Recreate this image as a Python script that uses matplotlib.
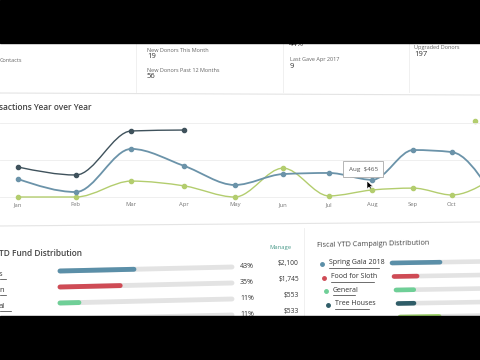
import numpy as np
import matplotlib.pyplot as plt
from matplotlib.path import Path
from matplotlib.patches import PathPatch, Rectangle

plt.rcParams['font.family'] = ['Open Sans', 'DejaVu Sans']

# Data
months = ['Jan', 'Feb', 'Mar', 'Apr', 'May', 'Jun', 'Jul', 'Aug', 'Sep', 'Oct', 'Nov', 'Dec']
prior2 = [810, 595, 1785, 1810]                                     # dark series
prior1 = [485, 135, 1300, 840, 325, 620, 650, 465, 1270, 1215, 250]   # blue series
current = [0, 0, 430, 300, 0, 780, 30, 190, 240, 55, 420]             # green series

fund_labels = ['s', 'n', 'al', '']
fund_pct = [43, 35, 11, 11]
fund_amount = ['$2,100', '$1,745', '$553', '$533']

camp_labels = ['Spring Gala 2018', 'Food for Sloth', 'General', 'Tree Houses', '']
camp_pct = [27, 13, 10, 9, 22]

stat_labels = ['Contacts', 'New Donors This Month', 'New Donors Past 12 Months',
               'Last Gave Apr 2017', 'Upgraded Donors']
stat_values = ['', '19', '56', '9', '197']

C_DARK = '#3f525c'
C_BLUE = '#6b93a9'
C_GREEN = '#b3cd6e'
C_CAMP = ['#5b8fa8', '#cf4b55', '#6fcf97', '#2f5d68', '#9fd36b']


def monotone_path(xs, ys):
    xs = np.asarray(xs, float)
    ys = np.asarray(ys, float)
    n = len(xs)
    h = np.diff(xs)
    s = np.diff(ys) / h
    m = np.zeros(n)
    for i in range(1, n - 1):
        if s[i - 1] * s[i] > 0:
            p = (s[i - 1] * h[i] + s[i] * h[i - 1]) / (h[i - 1] + h[i])
            m[i] = (np.sign(s[i - 1]) + np.sign(s[i])) * min(abs(s[i - 1]), abs(s[i]), 0.5 * abs(p))
    m[0] = (3 * s[0] - m[1]) / 2
    m[-1] = (3 * s[-1] - m[-2]) / 2
    verts = [(xs[0], ys[0])]
    codes = [Path.MOVETO]
    for i in range(n - 1):
        d = h[i] / 3
        verts += [(xs[i] + d, ys[i] + m[i] * d), (xs[i + 1] - d, ys[i + 1] - m[i + 1] * d),
                  (xs[i + 1], ys[i + 1])]
        codes += [Path.CURVE4] * 3
    return Path(verts, codes)


# slight perspective: months get closer to the right
def fwd(x):
    x = np.asarray(x, float)
    return 59 * x - 1.2 * x ** 2


def inv(u):
    u = np.asarray(u, float)
    return (59 - np.sqrt(np.clip(59 ** 2 - 4.8 * u, 0, None))) / 2.4


fig = plt.figure(figsize=(4.8, 3.6), dpi=100)
bg = fig.add_axes([0, 0, 1, 1])
bg.set_xlim(0, 480)
bg.set_ylim(360, 0)
bg.axis('off')

# card outlines
bg.plot([0, 480], [93, 95], color='#e4e4e4', lw=0.8)
bg.plot([0, 480], [226, 222], color='#e4e4e4', lw=0.8)
for x in (136, 283, 409):
    bg.plot([x, x], [43, 92], color='#eeeeee', lw=0.6)
bg.plot([304, 304], [228, 316], color='#eeeeee', lw=0.6)

# top stats
stat_pos = [(0, 61), (147, 50), (147, 70), (290, 60), (414, 48)]
for (x, y), lab, val in zip(stat_pos, stat_labels, stat_values):
    bg.text(x, y, lab, fontsize=4, color='#666666', va='center')
    if val:
        bg.text(x, y + 6.5, val, fontsize=5.5, color='#333333', va='center')
bg.text(289, 44, '44%', fontsize=5.5, color='#333333', va='center')

# chart
ax = fig.add_axes([0, (360 - 198) / 360, 1, (198 - 95) / 360])
ax.patch.set_alpha(0)
ax.set_xscale('function', functions=(fwd, inv))
for v in (0, 1000, 2000):
    ax.axhline(v, color='#ececec', lw=0.6, zorder=0)
for sp in ax.spines.values():
    sp.set_visible(False)
ax.set_yticks([])
ax.set_xticks(range(10))
ax.set_xticklabels(months[:10], fontsize=4.2, color='#777777')
ax.tick_params(axis='x', length=0, pad=3)

for vals, col, lw in ((current, C_GREEN, 1.0), (prior1, C_BLUE, 1.3), (prior2, C_DARK, 1.0)):
    xs = np.arange(len(vals))
    ax.add_patch(PathPatch(monotone_path(xs, vals), facecolor='none', edgecolor=col,
                           lw=lw, clip_on=False))
    ax.plot(xs, vals, 'o', color=col, ms=3, clip_on=False)

ax.set_xlim(inv(-18), inv(462))
ax.set_ylim(-27, 2757)

ax.annotate('Aug  $465', xy=(7, prior1[7]), xytext=(-9, 8), textcoords='offset pixels',
            fontsize=4.5, color='#555555', ha='center', va='bottom', annotation_clip=False,
            bbox=dict(boxstyle='square,pad=0.9', fc='white', ec='#aaaaaa', lw=0.6))

# legend dot and cursor
bg.plot(475, 121, 'o', color=C_GREEN, ms=3)
cursor = Path([(0, 0), (0, 8), (2, 6), (4, 9), (5, 8.5), (3.5, 5.5), (6, 5.5), (0, 0)])
bg.add_patch(PathPatch(Path(cursor.vertices + [367, 181]), fc='black', ec='white', lw=0.4, zorder=5))

# chart title
bg.text(-1, 107, 'sactions Year over Year', fontsize=6, color='#444444', va='center',
        fontweight='semibold')

# fund distribution
bg.text(-1, 253, 'TD Fund Distribution', fontsize=6, color='#444444', va='center',
        fontweight='semibold')
bg.text(269, 247, 'Manage', fontsize=4.2, color='#4a9a8a', va='center')
for i, (lab, pct, amt) in enumerate(zip(fund_labels, fund_pct, fund_amount)):
    y0 = 271 + 16 * i
    y1 = y0 - 4
    x0, x1 = 60, 232
    bg.plot([x0, x1], [y0, y1], color='#e3e3e3', lw=3.5, solid_capstyle='round')
    xf = x0 + (x1 - x0) * pct / 100
    bg.plot([x0, xf], [y0, y0 + (y1 - y0) * pct / 100], color=C_CAMP[i], lw=3.5,
            solid_capstyle='round')
    bg.text(240, y1 - 1, f'{pct}%', fontsize=5, color='#333333', va='center')
    bg.text(299, y1 - 3, amt, fontsize=4.8, color='#333333', va='center', ha='right')
    if lab:
        bg.text(-1, y0 + 3, lab, fontsize=5.5, color='#333333', va='center')
        bg.plot([0, 1 + 5 * len(lab)], [y0 + 7.5, y0 + 7.5], color='#333333', lw=0.5)

# campaign distribution
bg.text(317, 244, 'Fiscal YTD Campaign Distribution', fontsize=5.2, color='#444444',
        va='center', rotation=1.2)
for i, (lab, pct) in enumerate(zip(camp_labels, camp_pct)):
    y = 263 + 13.5 * i
    x0 = 392 + 2 * i
    bg.plot([x0, 570], [y, y - 3], color='#e3e3e3', lw=3.3, solid_capstyle='round')
    xf = x0 + (570 - 392) * pct / 100
    bg.plot([x0, xf], [y, y - 3 * (xf - x0) / (570 - x0)], color=C_CAMP[i], lw=3.3,
            solid_capstyle='round')
    if lab:
        tx = 329 + 2 * i
        bg.plot(322 + 2 * i, y + 1, 'o', color=C_CAMP[i], ms=2.5)
        bg.text(tx, y, lab, fontsize=5, color='#333333', va='center')
        bg.plot([tx, tx + 3.1 * len(lab)], [y + 5, y + 5], color='#333333', lw=0.5)

# black bands
bg.add_patch(Rectangle((0, 0), 480, 43, color='black', zorder=20))
bg.add_patch(Rectangle((0, 316), 480, 44, color='black', zorder=20))

fig.savefig('out.png', dpi=100)
